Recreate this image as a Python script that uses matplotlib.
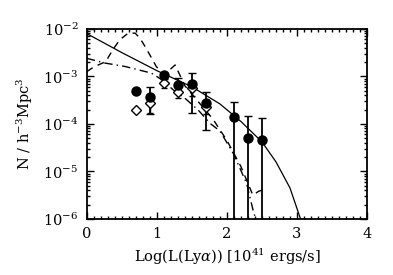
import numpy as np
import matplotlib
matplotlib.use("Agg")
import matplotlib.pyplot as plt
from matplotlib.ticker import MultipleLocator, LogLocator, NullFormatter

plt.rcParams['font.family'] = ['DejaVu Serif']
plt.rcParams['mathtext.fontset'] = 'dejavuserif'

# filled circles with error bars (log values)
circ_x = [0.7, 0.9, 1.1, 1.3, 1.5, 1.7, 2.1, 2.3, 2.5]
circ_log = [-3.30, -3.44, -2.98, -3.19, -3.16, -3.57, -3.85, -4.30, -4.34]
circ_hi = [-3.30, -3.23, -2.93, -3.04, -2.92, -3.33, -3.53, -3.84, -3.88]
circ_lo = [-3.30, -3.79, -3.05, -3.35, -3.77, -4.13, -8.0, -8.0, -8.0]

# open diamonds
diam_x = [0.7, 0.9, 1.1, 1.3, 1.5, 1.7]
diam_log = [-3.71, -3.56, -3.13, -3.32, -3.25, -3.65]
diam_hi = [-3.71, -3.56, -3.13, -3.32, -3.25, -3.65]
diam_lo = [-3.71, -3.78, -3.25, -3.45, -3.42, -3.80]

# model curves (log N)
solid_x = [0.0, 0.5, 1.0, 1.5, 1.9, 2.2, 2.5, 2.7, 2.9, 3.05]
solid_log = [-2.10, -2.50, -2.88, -3.22, -3.58, -3.95, -4.38, -4.80, -5.35, -6.0]

dash_x = [0.0, 0.1, 0.27, 0.37, 0.47, 0.59, 0.69, 0.76, 0.83, 0.9, 0.99, 1.1,
          1.26, 1.4, 1.6, 1.8, 2.0, 2.2, 2.37, 2.45, 2.55]
dash_log = [-2.90, -2.80, -2.69, -2.44, -2.23, -2.09, -2.09, -2.20, -2.37, -2.55,
            -2.79, -2.97, -2.76, -3.20, -3.55, -3.90, -4.35, -4.90, -5.50, -5.42, -5.37]

dd_x = [0.0, 0.26, 0.54, 0.92, 1.07, 1.23, 1.4, 1.59, 1.76, 1.9, 2.09, 2.28, 2.37, 2.41]
dd_log = [-2.62, -2.72, -2.79, -2.93, -3.07, -3.28, -3.46, -3.71, -3.99, -4.15,
          -4.62, -5.25, -5.80, -6.0]

fig = plt.figure(figsize=(3.93, 2.75), dpi=100)
ax = fig.add_axes([0.221, 0.204, 0.713, 0.691])

ax.plot(solid_x, 10**np.array(solid_log), 'k-', lw=0.9)
ax.plot(dash_x, 10**np.array(dash_log), 'k', ls=(0, (5, 4)), lw=1.0)
ax.plot(dd_x, 10**np.array(dd_log), 'k', ls=(0, (6, 3, 1, 3)), lw=1.0)

dy = 10**np.array(diam_log)
ax.errorbar(diam_x, dy, yerr=[dy - 10**np.array(diam_lo), 10**np.array(diam_hi) - dy],
            fmt='D', mfc='white', mec='k', color='k', ms=5, mew=1.0,
            elinewidth=1.0, capsize=2.5, capthick=1.0)
cy = 10**np.array(circ_log)
ax.errorbar(circ_x, cy, yerr=[cy - 10**np.array(circ_lo), 10**np.array(circ_hi) - cy],
            fmt='o', color='k', ms=6.5, elinewidth=1.3, capsize=3, capthick=1.0)

ax.set_xlim(0, 4)
ax.set_yscale('log')
ax.set_ylim(1e-6, 1e-2)
ax.xaxis.set_major_locator(MultipleLocator(1))
ax.xaxis.set_minor_locator(MultipleLocator(0.1))
ax.yaxis.set_major_locator(LogLocator(base=10, numticks=10))
ax.yaxis.set_minor_locator(LogLocator(base=10, subs=np.arange(2, 10), numticks=10))
ax.yaxis.set_minor_formatter(NullFormatter())
ax.tick_params(which='both', direction='in', top=True, right=True, labelsize=10.5,
               width=1.0, pad=6)
ax.tick_params(which='major', length=5)
ax.tick_params(which='minor', length=2.5)
for s in ax.spines.values():
    s.set_linewidth(1.3)

ax.set_xlabel(r'Log(L(Ly$\alpha$)) [10$^{41}$ ergs/s]', fontsize=10.5, labelpad=4)
ax.set_ylabel(r'N / h$^{-3}$Mpc$^{3}$', fontsize=10.5, labelpad=6)

fig.savefig('out.png', dpi=100)
